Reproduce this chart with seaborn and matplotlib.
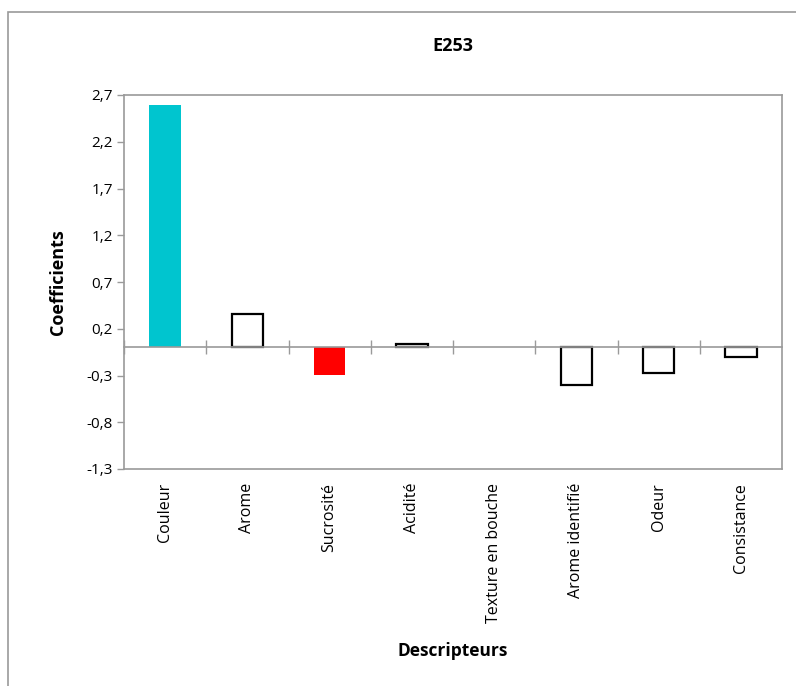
import matplotlib
matplotlib.use("Agg")
import matplotlib.pyplot as plt
import matplotlib.patches as mpatches
import seaborn as sns
import numpy as np

categories = ["Couleur", "Arome", "Sucrosité", "Acidité", "Texture en bouche",
              "Arome identifié", "Odeur", "Consistance"]
values = [2.59, 0.36, -0.29, 0.04, 0.0, -0.40, -0.27, -0.10]
fill_colors = ["#00C5CF", "#FFFFFF", "#FF0000", "#FFFFFF", "#FFFFFF",
               "#FFFFFF", "#FFFFFF", "#FFFFFF"]
edge_colors = ["#00C5CF", "black", "#FF0000", "black", "black",
               "black", "black", "black"]
yticks = [-1.3, -0.8, -0.3, 0.2, 0.7, 1.2, 1.7, 2.2, 2.7]
ytick_labels = ["-1,3", "-0,8", "-0,3", "0,2", "0,7", "1,2", "1,7", "2,2", "2,7"]

sns.set_theme(style="white")
plt.rcParams["font.family"] = ["Open Sans", "DejaVu Sans"]
plt.rcParams["text.color"] = "black"
plt.rcParams["axes.labelcolor"] = "black"
plt.rcParams["xtick.color"] = "black"
plt.rcParams["ytick.color"] = "black"

fig = plt.figure(figsize=(7.96, 6.86), dpi=100)
ax = fig.add_axes([124/796, 1 - 469/686, (782 - 124)/796, (469 - 95)/686])

sns.barplot(x=categories, y=values, hue=categories, palette=fill_colors,
            legend=False, width=0.38, ax=ax, saturation=1)
for p, ec, v in zip(ax.patches, edge_colors, values):
    p.set_edgecolor(ec)
    p.set_linewidth(1.6 if (ec == "black" and v != 0) else 0)

gray = "#9A9A9A"
ax.set_ylim(-1.3, 2.7)
ax.set_xlim(-0.5, len(categories) - 0.5)
ax.set_yticks(yticks)
ax.set_yticklabels(ytick_labels, fontsize=11, color="black")
ax.tick_params(axis="y", direction="out", length=5, width=1, color=gray, left=True, pad=3)

# Horizontal axis at zero with boundary tick marks
ax.spines["bottom"].set_position(("data", 0))
ax.spines["bottom"].set_color(gray)
ax.set_xticks(np.arange(len(categories)) - 0.5, minor=True)
ax.set_xticks([])
ax.tick_params(axis="x", which="minor", direction="inout", length=10, width=1,
               color=gray, bottom=True)
ax.tick_params(axis="x", which="major", length=0, labelbottom=False)
for s in ["left", "right", "top"]:
    ax.spines[s].set_color(gray)
    ax.spines[s].set_linewidth(1.2)
ax.spines["bottom"].set_linewidth(1.2)

# Category labels below plot area
sec = ax.secondary_xaxis("bottom")
sec.set_xticks(np.arange(len(categories)))
sec.set_xticklabels(categories, rotation=90, fontsize=11.5, va="top", color="black")
sec.tick_params(length=0, pad=10)
sec.spines["bottom"].set_color(gray)
sec.spines["bottom"].set_linewidth(1.2)
sec.set_xlabel("Descripteurs", fontsize=12.5, fontweight="bold", labelpad=14, color="black")

ax.set_xlabel("")
ax.set_ylabel("Coefficients", fontsize=13, fontweight="bold", labelpad=14, color="black")
ax.set_title("E253", fontsize=13, fontweight="bold", pad=32, color="black")

# Chart-area border
fig.patches.append(mpatches.Rectangle((8/796, -0.1), 1.2, 1.1 - 12/686,
                                      transform=fig.transFigure, fill=False,
                                      edgecolor=gray, linewidth=1.2))

fig.savefig("out.png", dpi=100)
